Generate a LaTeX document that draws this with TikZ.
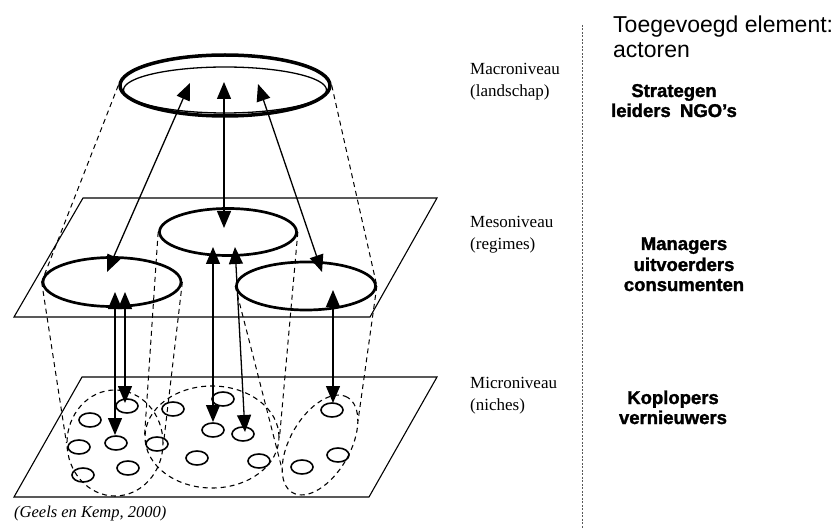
\documentclass[tikz,border=0pt]{standalone}
\usepackage{fontspec}
\setmainfont{Liberation Serif}
\newfontfamily\arial{Liberation Sans}
\newfontfamily\arialheavy[FakeBold=1.6]{Liberation Sans Bold}
\usetikzlibrary{arrows.meta,shapes.geometric}
\begin{document}
\begin{tikzpicture}[x=1pt,y=-1pt,
  plane/.style={line width=1.1pt},
  bigell/.style={ellipse, draw, line width=2.7pt, inner sep=0pt},
  dell/.style={ellipse, draw, line width=1.1pt, dash pattern=on 5pt off 4pt, inner sep=0pt},
  cone/.style={line width=1pt, dash pattern=on 5pt off 4pt},
  smell/.style={ellipse, draw, line width=1.6pt, minimum width=22pt, minimum height=14pt, inner sep=0pt},
  biarrow/.style={line width=1.3pt, {Triangle[length=17pt,width=14pt]}-{Triangle[length=17pt,width=14pt]}},
  lvl/.style={anchor=base west, inner sep=0pt, font=\fontsize{17}{20}\selectfont},
  act/.style={anchor=base, inner sep=0pt, font=\arialheavy\fontsize{18.5}{21}\selectfont},
  ttl/.style={anchor=base west, inner sep=0pt, font=\arial\fontsize{23}{27}\selectfont},
]
\useasboundingbox (0,0) rectangle (832,529);

% planes
\draw[plane] (14,317) -- (370,317) -- (437,198) -- (83,198) -- cycle;
\draw[plane] (14,497) -- (369,497) -- (437,377) -- (82,377) -- cycle;

% macro ellipse (double)
\node[ellipse, draw, line width=3.5pt, minimum width=210pt, minimum height=61pt, inner sep=0pt] (macro) at (225,85.5) {};
\node[ellipse, draw, line width=1.3pt, minimum width=203pt, minimum height=46pt, inner sep=0pt] (macroin) at (225,90) {};

% meso ellipses
\node[bigell, minimum width=137pt, minimum height=47pt] (cmeso) at (228,232) {};
\node[bigell, minimum width=138pt, minimum height=49pt] (lmeso) at (112,282) {};
\node[bigell, minimum width=139pt, minimum height=48pt] (rmeso) at (306,286) {};

% micro dashed groups
\node[dell, minimum width=96pt, minimum height=106pt] (lmic) at (115,443) {};
\node[dell, minimum width=134pt, minimum height=102pt] (mmic) at (212,437) {};
\node[dell, minimum width=110pt, minimum height=60pt, rotate=60] (rmic) at (320,445) {};
\coordinate (rmicW) at (282,469);
\coordinate (rmicE) at (358,421);

% niches
\foreach \p [count=\i] in {(127,406),(90,420),(116,443),(79,447),(83,475),(128,468),(157,444),(173,409),(223,399),(213,430),(243,434),(197,458),(259,461),(332,410),(338,455),(302,467)}
  \node[smell] (n\i) at \p {};

% cone lines
\draw[cone] (macro.west) -- (lmeso.west);
\draw[cone] (macro.east) -- (rmeso.east);
\draw[cone] (lmeso.west) -- (lmic.west);
\draw[cone] (lmeso.east) -- (lmic.east);
\draw[cone] (cmeso.west) -- (mmic.west);
\draw[cone] (cmeso.east) -- (mmic.east);
\draw[cone] (rmeso.west) -- (rmicW);
\draw[cone] (rmeso.east) -- (rmicE);

% arrow end points
\coordinate (a1t) at (190,83);  \coordinate (a1b) at (107,272);
\coordinate (a2t) at (224,82);  \coordinate (a2b) at (224,228);
\coordinate (a3t) at (258,84);  \coordinate (a3b) at (322,272);
\coordinate (a4t) at (115,292); \coordinate (a4b) at (115,435);
\coordinate (a5t) at (125,292); \coordinate (a5b) at (125,403);
\coordinate (a6t) at (213,247); \coordinate (a6b) at (213,422);
\coordinate (a7t) at (235,247); \coordinate (a7b) at (245,432);
\coordinate (a8t) at (333,290); \coordinate (a8b) at (333,403);
\foreach \k in {1,...,8} \draw[biarrow] (a\k t) -- (a\k b);

% level labels
\node[lvl] (macrolbl) at (470,75) {Macroniveau};
\node[lvl] (landlbl) at (470,97) {(landschap)};
\node[lvl] (mesolbl) at (470,228) {Mesoniveau};
\node[lvl] (reglbl) at (470,250) {(regimes)};
\node[lvl] (microlbl) at (470,388) {Microniveau};
\node[lvl] (nichlbl) at (470,410) {(niches)};

% divider
\coordinate (dtop) at (582,25);
\coordinate (dbot) at (582,529);
\draw[line width=0.8pt, black!65, dash pattern=on 2pt off 1.5pt] (dtop) -- (dbot);

% actors
\node[ttl] (t1) at (613,33) {Toegevoegd element:};
\node[ttl] (t2) at (613,58) {actoren};
\node[act] (s1) at (674,97) {Strategen};
\node[act] (s2) at (674,117) {leiders\hspace{0.5em}NGO’s};
\node[act] (m1) at (684,250) {Managers};
\node[act] (m2) at (684,271) {uitvoerders};
\node[act] (m3) at (684,291) {consumenten};
\node[act] (k1) at (673,404) {Koplopers};
\node[act] (k2) at (673,424) {vernieuwers};

% source
\node[anchor=base west, inner sep=0pt, font=\itshape\fontsize{16.5}{19}\selectfont] (cap) at (14,517) {(Geels en Kemp, 2000)};
\end{tikzpicture}
\end{document}
